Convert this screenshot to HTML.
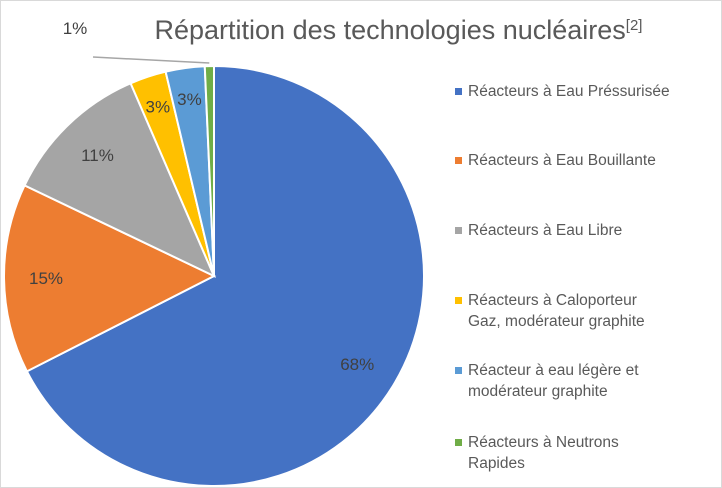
<!DOCTYPE html>
<html><head><meta charset="utf-8"><style>
body{margin:0;background:#fff}
#c{position:relative;width:720px;height:486px;border:1px solid #d9d9d9;background:#fff;font-family:"Liberation Sans","DejaVu Sans",sans-serif}
.t{position:absolute;left:0;top:14px;width:795px;text-align:center;font-size:27px;color:#595959}
.t sup{font-size:15px;vertical-align:top;position:relative;top:2px}
.leg{position:absolute;left:454px;font-size:15.5px;color:#595959;line-height:21px}
.leg i{position:absolute;left:0;top:7px;width:7px;height:7px}
.leg span{display:block;padding-left:13px}
</style></head><body>
<div id="c">
<div class="t">Répartition des technologies nucléaires<sup>[2]</sup></div>
<svg id="pie" width="720" height="486" style="position:absolute;left:0;top:0"></svg>
<div id="legend"></div>
</div>
<script>
const categories=["Réacteurs à Eau Préssurisée","Réacteurs à Eau Bouillante","Réacteurs à Eau Libre","Réacteurs à Caloporteur Gaz, modérateur graphite","Réacteur à eau légère et modérateur graphite","Réacteurs à Neutrons Rapides"];
const legendLines=[["Réacteurs à Eau Préssurisée"],["Réacteurs à Eau Bouillante"],["Réacteurs à Eau Libre"],["Réacteurs à Caloporteur","Gaz, modérateur graphite"],["Réacteur à eau légère et","modérateur graphite"],["Réacteurs à Neutrons","Rapides"]];
const values=[67.5,14.6,11.4,2.8,3.0,0.7];
const labels=["68%","15%","11%","3%","3%","1%"];
const colors=["#4472c4","#ed7d31","#a5a5a5","#ffc000","#5b9bd5","#70ad47"];
const legendTops=[80,149,219,289,359,431];
const cx=213,cy=275,r=210;
const NS="http://www.w3.org/2000/svg";
const svg=document.getElementById('pie');
const total=values.reduce((a,b)=>a+b,0);
const pt=(a,rr)=>[cx+rr*Math.sin(a),cy-rr*Math.cos(a)];
let acc=0;
values.forEach((v,i)=>{
  const a0=acc/total*2*Math.PI; acc+=v; const a1=acc/total*2*Math.PI;
  const p0=pt(a0,r),p1=pt(a1,r);
  const path=document.createElementNS(NS,'path');
  path.setAttribute('d',`M${cx},${cy}L${p0[0]},${p0[1]}A${r},${r} 0 ${a1-a0>Math.PI?1:0} 1 ${p1[0]},${p1[1]}Z`);
  path.setAttribute('fill',colors[i]);path.setAttribute('stroke','#fff');path.setAttribute('stroke-width','2');
  
  
  svg.appendChild(path);
  const am=(a0+a1)/2;
  let lp;
  const tx=document.createElementNS(NS,'text');
  if(i===values.length-1){
    const e=pt(am,r+3);
    const ln=document.createElementNS(NS,'polyline');
    ln.setAttribute('points',`${e[0]},${e[1]} 92,56`);
    ln.setAttribute('fill','none');ln.setAttribute('stroke','#a6a6a6');ln.setAttribute('stroke-width','1.5');
    
    
    svg.appendChild(ln);
    lp=[74,27];
  } else {
    const rr=i===0?0.8*r:(i>=3?0.85*r:0.8*r);
    lp=pt(am,rr);
  }
  tx.setAttribute('x',lp[0]);tx.setAttribute('y',lp[1]+6);tx.setAttribute('text-anchor','middle');
  tx.setAttribute('font-size','17');tx.setAttribute('fill','#404040');
  tx.textContent=labels[i];
  
  
  svg.appendChild(tx);
});
const leg=document.getElementById('legend');
categories.forEach((c,i)=>{
  const d=document.createElement('div');d.className='leg';d.style.top=legendTops[i]+'px';
  
  
  const m=document.createElement('i');m.style.background=colors[i];d.appendChild(m);
  legendLines[i].forEach(l=>{const s=document.createElement('span');s.textContent=l;d.appendChild(s);});
  leg.appendChild(d);
});
</script>
</body></html>
